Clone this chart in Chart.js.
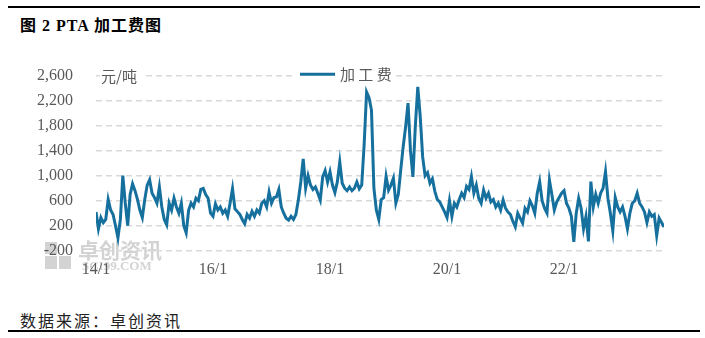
<!DOCTYPE html>
<html>
<head>
<meta charset="utf-8">
<script src="https://cdn.jsdelivr.net/npm/chart.js@4.4.1/dist/chart.umd.min.js"></script>
<style>
  html, body { margin: 0; padding: 0; background: #fff; }
  #wrap { position: relative; width: 705px; height: 338px; overflow: hidden; }
  .rule { position: absolute; left: 8px; width: 692px; height: 2px; background: #000; }
  #title { position: absolute; left: 20px; top: 12px; font: bold 16px "Liberation Serif", "Noto Sans CJK SC", serif; letter-spacing: 1px; color: #000; white-space: nowrap; }
  #source { position: absolute; left: 20px; top: 308px; font: 16px "Noto Sans CJK SC", sans-serif; letter-spacing: 2px; color: #222; white-space: nowrap; }
  #box { position: absolute; left: 0; top: 0; width: 705px; height: 300px; }
</style>
</head>
<body>
<div id="wrap">
  <div class="rule" style="top:6px"></div>
  <div id="title">图 2 PTA 加工费图</div>
  <div id="box"><canvas id="feeChart" width="705" height="300"></canvas></div>
  <div id="source">数据来源：卓创资讯</div>
  <div class="rule" style="top:330px"></div>
</div>
<script>
// PTA processing fee, 元/吨 at about two points a month
const fee2014 = [420, 150, 330, 250, 300, 620, 450, 380, 200, 5, 300, 1000, 560, 200, 700, 870, 760, 620, 450, 330, 620, 850, 935, 720];
const fee2015 = [650, 560, 820, 500, 300, 215, 560, 450, 640, 500, 400, 560, 200, 85, 450, 560, 500, 640, 600, 780, 795, 700, 640, 400];
const fee2016 = [350, 550, 450, 500, 400, 450, 350, 560, 795, 470, 425, 380, 300, 230, 380, 320, 430, 350, 450, 400, 560, 600, 500, 740];
const fee2017 = [560, 650, 660, 780, 500, 400, 320, 290, 350, 300, 380, 610, 900, 1270, 800, 1000, 850, 780, 820, 720, 610, 980, 1080, 900];
const fee2018 = [1060, 850, 730, 900, 1220, 880, 800, 760, 820, 760, 800, 900, 790, 850, 1500, 2340, 2250, 2050, 800, 450, 300, 620, 650, 990];
const fee2019 = [770, 850, 960, 560, 700, 1090, 1460, 1780, 2160, 1400, 980, 1800, 2420, 1950, 1300, 1000, 1050, 880, 950, 750, 620, 580, 500, 420];
const fee2020 = [330, 600, 350, 560, 500, 620, 720, 650, 830, 780, 985, 720, 850, 640, 560, 770, 640, 720, 580, 620, 500, 560, 450, 610];
const fee2021 = [480, 420, 380, 270, 180, 400, 320, 240, 480, 420, 600, 520, 400, 720, 905, 600, 480, 400, 930, 700, 450, 580, 650, 720];
const fee2022 = [760, 560, 480, 350, -60, 400, 640, 480, 150, 350, -50, 905, 500, 700, 560, 720, 800, 1065, 640, 400, 120, 650, 500, 420];
const fee2023 = [500, 350, 150, 400, 560, 600, 720, 560, 500, 420, 250, 420, 350, 380, 40, 320, 250, 180];

const years = [fee2014, fee2015, fee2016, fee2017, fee2018, fee2019, fee2020, fee2021, fee2022, fee2023];
const xTickValues = [0, 2, 4, 6, 8];
const xTickLabels = ['14/1', '16/1', '18/1', '20/1', '22/1'];
const yTicks = [-200, 200, 600, 1000, 1400, 1800, 2200, 2600];

// x = years since Jan 2014, each year has 24 half-month samples
const points = [];
years.forEach((arr, y) => arr.forEach((v, i) => points.push({ x: y + i / 24, y: v })));
const lastX = points[points.length - 1].x;

const grey = '#595959';
const lineColor = '#16709e';
const serif = '"Liberation Serif", "Noto Sans CJK SC", serif';
const cjk = '"Noto Sans CJK SC", sans-serif';

const extras = {
  id: 'extras',
  beforeDraw(chart) {
    // faint watermark at lower left, under the axes
    const ctx = chart.ctx;
    ctx.save();
    ctx.fillStyle = 'rgba(200,200,200,0.8)';
    ctx.fillRect(45, 242, 12, 12);
    ctx.fillRect(45, 256, 12, 13);
    ctx.fillRect(59, 256, 12, 13);
    ctx.font = 'bold 21px ' + cjk;
    ctx.textBaseline = 'middle';
    ctx.fillText('卓创资讯', 78, 250);
    ctx.font = 'bold 13px ' + serif;
    ctx.fillText('SCI99.COM', 82, 267);
    ctx.restore();
  },
  afterDraw(chart) {
    const ctx = chart.ctx;
    const top = chart.chartArea.top;
    ctx.save();
    ctx.textBaseline = 'middle';
    // unit label
    ctx.fillStyle = '#fff';
    ctx.fillRect(100, top - 8, 42, 16);
    ctx.fillStyle = grey;
    ctx.font = '15px ' + cjk;
    ctx.fillText('元/吨', 101, top + 1);
    // legend
    ctx.fillStyle = '#fff';
    ctx.fillRect(296, top - 10, 96, 18);
    ctx.strokeStyle = lineColor;
    ctx.lineWidth = 3;
    ctx.beginPath();
    ctx.moveTo(300, top - 1.5);
    ctx.lineTo(335, top - 1.5);
    ctx.stroke();
    ctx.fillStyle = grey;
    ctx.font = '15px ' + cjk;
    ctx.fillText('加 工 费', 340, top - 1);
    ctx.restore();
  }
};

new Chart(document.getElementById('feeChart'), {
  type: 'line',
  data: {
    datasets: [{
      label: '加工费',
      data: points,
      borderColor: lineColor,
      borderWidth: 3,
      pointRadius: 0,
      tension: 0,
      fill: false
    }]
  },
  options: {
    responsive: false,
    animation: false,
    devicePixelRatio: 1,
    layout: { padding: { left: 0, right: 41, top: 75.7, bottom: 19.3 } },
    plugins: { legend: { display: false }, tooltip: { enabled: false } },
    scales: {
      x: {
        type: 'linear',
        min: 0,
        max: lastX,
        afterFit: (s) => { s.height = 30; },
        afterBuildTicks: (s) => { s.ticks = xTickValues.map((v) => ({ value: v })); },
        grid: { display: false, drawTicks: false },
        border: { display: false },
        ticks: {
          padding: 9,
          color: grey,
          font: { family: serif, size: 16 },
          maxRotation: 0,
          callback: (v) => xTickLabels[xTickValues.indexOf(v)]
        }
      },
      y: {
        min: -200,
        max: 2600,
        afterFit: (s) => { s.width = 96; },
        afterBuildTicks: (s) => { s.ticks = yTicks.map((v) => ({ value: v })); },
        grid: { color: '#d9d9d9', lineWidth: 1.5, drawTicks: false },
        border: { display: false, dash: [6, 4] },
        ticks: {
          padding: 23,
          color: grey,
          font: { family: serif, size: 16 },
          callback: (v) => v.toLocaleString('en-US')
        }
      }
    }
  },
  plugins: [extras]
});
</script>
</body>
</html>
